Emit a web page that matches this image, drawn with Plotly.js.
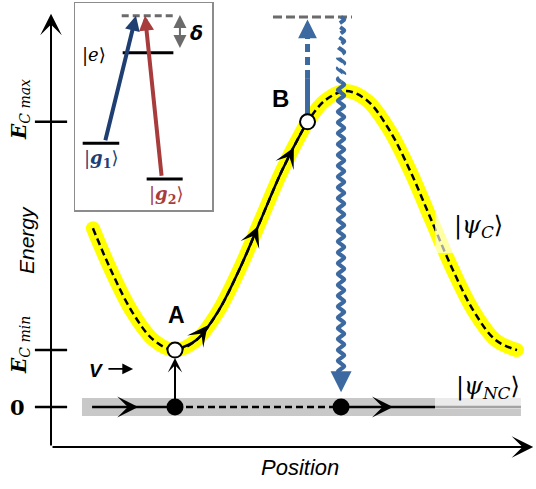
<!DOCTYPE html>
<html><head><meta charset="utf-8">
<script src="https://cdn.plot.ly/plotly-3.0.1.min.js"></script>
<style>html,body{margin:0;padding:0;background:#fff}</style>
</head><body><div id="chart" style="width:536px;height:489px"></div>
<script>
// ---- main diagram data (position units, energy units) ----
const curveX = [5.2, 6.25, 7.5, 8.75, 10, 11.25, 12.5, 13.75, 15, 16.25, 17.5, 17.75, 18.75, 20, 21.25, 22.5, 23.75, 25, 26.25, 27.5, 28.75, 30];
const curveE = [6.25, 4.79, 3.32, 2.34, 1.99, 2.34, 3.32, 4.79, 6.52, 8.26, 9.72, 9.97, 10.71, 11.05, 10.71, 9.72, 8.26, 6.52, 4.79, 3.32, 2.34, 1.99];
const idxA = 4, idxB = 11;
const pointLabels = ['A', 'B'];
const pointX = [curveX[idxA], curveX[idxB]];
const pointE = [curveE[idxA], curveE[idxB]];
const tickE = [0, curveE[idxA], curveE[idxB]];
const tickText = ['<b>0</b>', '<b><i>E</i></b><sub><i>C min</i></sub>', '<b><i>E</i></b><sub><i>C max</i></sub>'];
const bandX = [4.56, 30.23];
const pathSolid1X = [5.15, 10];
const pathDashX = [10, 19.71];
const pathSolid2X = [19.71, 30.23];
const dotX = [10, 19.71];
const bandArrowX = [7.85, 22.75];
const curveArrowX = [11.9, 14.85, 16.95];
const pumpE = [9.97, 11.5, 13.0, 13.55];
const levelTopX = [15.73, 20.35];
const levelTopE = 13.64;
const waveX = 19.71;
const waveE = [13.64, 11.33, 1.05, 0.52];
const axisOriginX = 2.749, axisOriginE = -1.399, axisTipX = 30.95, axisTipE = 13.75;
const vArrowX = [6.02, 7.55], vArrowE = 1.33;
// ---- inset (level diagram) data ----
const insetLevelNames = ['virtual', 'e', 'g1', 'g2'];
const insetLevelE = [9.39, 7.60, 3.22, 1.50];
const insetLevelX0 = [3.41, 3.48, 0.56, 5.23];
const insetLevelX1 = [7.18, 7.18, 3.23, 7.86];
const blueArrowX = [2.19, 4.45];
const redArrowX = [6.33, 5.11];
const deltaX = 7.66;

const BLUE = '#3b69a0', NAVY = '#1f3f73', RED = '#a83c3c';
const W = 536, H = 489;
const px = v => v / W, py = v => 1 - v / H;

function interpE(x) {
  for (let i = 0; i < curveX.length - 1; i++) {
    if (x >= curveX[i] && x <= curveX[i + 1]) {
      const t = (x - curveX[i]) / (curveX[i + 1] - curveX[i]);
      return curveE[i] + t * (curveE[i + 1] - curveE[i]);
    }
  }
  return curveE[curveE.length - 1];
}
// decorative squiggle (line style) between two energies at a fixed position
function squiggle(x, e0, e1, amp, quarter) {
  const n = Math.round(Math.abs(e1 - e0) / quarter);
  const xs = [], es = [];
  for (let i = 0; i <= n; i++) {
    const ph = i % 4;
    xs.push(x + (ph === 1 ? amp : ph === 3 ? -amp : 0));
    es.push(e0 + (e1 - e0) * i / n);
  }
  return {xs, es};
}
const sq = squiggle(waveX, waveE[0], waveE[2], 0.19, 0.095);
const wDashX = [], wDashE = [], wSolX = [], wSolE = [];
sq.es.forEach((e, i) => {
  if (e >= waveE[1]) { wDashX.push(sq.xs[i]); wDashE.push(e); }
  if (e <= waveE[1] + 0.1) { wSolX.push(sq.xs[i]); wSolE.push(e); }
});

const sk = {hoverinfo: 'skip', showlegend: false};
const traces = [
  Object.assign({x: bandX, y: [0, 0], mode: 'lines', line: {color: '#c8c8c8', width: 18}}, sk),
  Object.assign({x: curveX, y: curveE, mode: 'lines', line: {color: '#ffff00', width: 14, shape: 'spline', smoothing: 1}}, sk),
  Object.assign({x: [curveX[0], curveX[curveX.length - 1]], y: [curveE[0], curveE[curveE.length - 1]], mode: 'markers', marker: {color: '#ffff00', size: 14}}, sk),
  Object.assign({x: curveX, y: curveE, mode: 'lines', line: {color: '#000', width: 2.5, dash: '7px,4px', shape: 'spline', smoothing: 1}}, sk),
  Object.assign({x: curveX.slice(idxA, idxB + 1), y: curveE.slice(idxA, idxB + 1), mode: 'lines', line: {color: '#000', width: 2.5, shape: 'spline', smoothing: 1}}, sk),
  Object.assign({x: pathSolid1X, y: [0, 0], mode: 'lines', line: {color: '#000', width: 2.5}}, sk),
  Object.assign({x: pathDashX, y: [0, 0], mode: 'lines', line: {color: '#000', width: 2.5, dash: '7px,4px'}}, sk),
  Object.assign({x: pathSolid2X, y: [0, 0], mode: 'lines', line: {color: '#000', width: 2.5}}, sk),
  Object.assign({x: levelTopX, y: [levelTopE, levelTopE], mode: 'lines', line: {color: '#6b6b6b', width: 3, dash: '9px,4px'}}, sk),
  Object.assign({x: [pointX[1], pointX[1]], y: [pumpE[0], pumpE[1]], mode: 'lines', line: {color: BLUE, width: 5}}, sk),
  Object.assign({x: [pointX[1], pointX[1]], y: [pumpE[1], pumpE[2]], mode: 'lines', line: {color: BLUE, width: 5, dash: '8px,5px'}}, sk),
  Object.assign({x: wDashX, y: wDashE, mode: 'lines', line: {color: BLUE, width: 4, dash: '10px,6px', shape: 'spline'}}, sk),
  Object.assign({x: wSolX, y: wSolE, mode: 'lines', line: {color: BLUE, width: 4, shape: 'spline'}}, sk),
  Object.assign({x: tickE.map(() => axisOriginX), y: tickE, mode: 'markers', marker: {symbol: 'line-ew', size: 23, line: {color: '#000', width: 2.5}}}, sk),
  Object.assign({x: dotX, y: [0, 0], mode: 'markers', marker: {color: '#000', size: 17}}, sk),
  Object.assign({x: pointX, y: pointE, mode: 'markers', marker: {color: '#fff', size: 15, line: {color: '#000', width: 2}}}, sk),
  // inset levels
  Object.assign({x: [insetLevelX0[0], insetLevelX1[0]], y: [insetLevelE[0], insetLevelE[0]], xaxis: 'x2', yaxis: 'y2', mode: 'lines', line: {color: '#6b6b6b', width: 3, dash: '7px,4px'}}, sk),
  Object.assign({x: [insetLevelX0[1], insetLevelX1[1], null, insetLevelX0[2], insetLevelX1[2], null, insetLevelX0[3], insetLevelX1[3]],
    y: [insetLevelE[1], insetLevelE[1], null, insetLevelE[2], insetLevelE[2], null, insetLevelE[3], insetLevelE[3]],
    xaxis: 'x2', yaxis: 'y2', mode: 'lines', line: {color: '#000', width: 3}}, sk)
];

const ann = [];
function arrow(o) {
  ann.push(Object.assign({text: '', showarrow: true, xref: 'x', yref: 'y', axref: 'x', ayref: 'y', arrowcolor: '#000', standoff: 0}, o));
}
// axes
arrow({x: axisOriginX, y: axisTipE, ax: axisOriginX, ay: axisOriginE, arrowhead: 3, arrowwidth: 2, arrowsize: 1.8});
arrow({x: axisTipX, y: axisOriginE, ax: axisOriginX, ay: axisOriginE, arrowhead: 3, arrowwidth: 2, arrowsize: 1.8});
// band arrows
bandArrowX.forEach(x => arrow({x: x, y: 0, ax: x - 0.6, ay: 0, arrowhead: 3, arrowwidth: 2.5, arrowsize: 1.4}));
// curve arrows
curveArrowX.forEach(x => arrow({x: x, y: interpE(x), ax: x - 0.3, ay: interpE(x - 0.3), arrowhead: 3, arrowwidth: 2.5, arrowsize: 1.35}));
// vertical transition dot -> A
arrow({x: pointX[0], y: pointE[0] - 0.28, ax: pointX[0], ay: 0, arrowhead: 3, arrowwidth: 2, arrowsize: 1.2});
// pump arrow head
arrow({x: pointX[1], y: pumpE[3], ax: pointX[1], ay: pumpE[2], arrowhead: 2, arrowwidth: 5, arrowsize: 0.75, arrowcolor: BLUE});
// wave arrow head
arrow({x: waveX, y: waveE[3], ax: waveX, ay: waveE[2], arrowhead: 2, arrowwidth: 4, arrowsize: 1.05, arrowcolor: BLUE});
// v arrow
arrow({x: vArrowX[1], y: vArrowE, ax: vArrowX[0], ay: vArrowE, arrowhead: 2, arrowwidth: 1.8, arrowsize: 1.2});
// inset arrows
function iarrow(o) { arrow(Object.assign({xref: 'x2', yref: 'y2', axref: 'x2', ayref: 'y2'}, o)); }
iarrow({x: blueArrowX[1], y: insetLevelE[0], ax: blueArrowX[0], ay: 3.30, arrowhead: 2, arrowwidth: 4, arrowsize: 0.75, arrowcolor: NAVY});
iarrow({x: redArrowX[1], y: insetLevelE[0], ax: redArrowX[0], ay: 1.58, arrowhead: 2, arrowwidth: 4, arrowsize: 0.75, arrowcolor: RED});
iarrow({x: deltaX, y: insetLevelE[0] + 0.03, ax: deltaX, ay: insetLevelE[1] + 0.15, arrowhead: 2, startarrowhead: 2, arrowside: 'end+start', arrowwidth: 2, arrowsize: 1.3, startarrowsize: 1.3, arrowcolor: '#6b6b6b'});

function label(text, x, y, font, extra) {
  ann.push(Object.assign({text: text, x: px(x), y: py(y), xref: 'paper', yref: 'paper', showarrow: false, xanchor: 'center', yanchor: 'middle', font: font}, extra || {}));
}
const serif = 'DejaVu Serif', sans = 'Liberation Sans, Arial';
label(tickText[0], 17, 407, {family: serif, size: 21, color: '#000'});
label(tickText[1], 20, 345, {family: serif, size: 20, color: '#000'}, {textangle: -90});
label(tickText[2], 20, 110, {family: serif, size: 20, color: '#000'}, {textangle: -90});
label('<i>Energy</i>', 26, 240, {family: sans, size: 21, color: '#000'}, {textangle: -90});
label('<i>Position</i>', 300, 467, {family: sans, size: 22, color: '#000'});
label('<b>' + pointLabels[0] + '</b>', 176, 315, {family: sans, size: 23, color: '#000'});
label('<b>' + pointLabels[1] + '</b>', 280, 98, {family: sans, size: 24, color: '#000'});
label('<b><i>V</i></b>', 96, 370, {family: sans, size: 19, color: '#000'});
label('|<i>ψ</i><sub><i>C</i></sub>⟩', 478, 226, {family: serif, size: 24, color: '#000'});
label('|<i>ψ</i><sub><i>NC</i></sub>⟩', 488, 387, {family: serif, size: 24, color: '#000'});
label('|<i>e</i>⟩', 94, 55, {family: serif, size: 18, color: '#000'});
label('|<b><i>g</i></b><sub><b>1</b></sub>⟩', 101, 159, {family: serif, size: 18, color: NAVY});
label('|<b><i>g</i></b><sub><b>2</b></sub>⟩', 166, 195, {family: serif, size: 18, color: RED});
label('<b><i>δ</i></b>', 196, 33, {family: 'DejaVu Sans', size: 19, color: '#000'});

const shapes = [
  {type: 'rect', xref: 'paper', yref: 'paper', x0: px(435), x1: px(515), y0: py(253), y1: py(195), fillcolor: 'rgba(255,255,255,0.64)', line: {width: 0}, layer: 'above'},
  {type: 'rect', xref: 'paper', yref: 'paper', x0: px(435), x1: px(532), y0: py(409), y1: py(362), fillcolor: 'rgba(255,255,255,0.64)', line: {width: 0}, layer: 'above'}
];

const layout = {
  width: W, height: H, margin: {l: 0, r: 0, t: 0, b: 0, pad: 0}, showlegend: false,
  paper_bgcolor: '#fff', plot_bgcolor: 'rgba(0,0,0,0)',
  xaxis: {range: [-0.234, 31.111], visible: false, fixedrange: true},
  yaxis: {range: [-2.867, 14.231], visible: false, fixedrange: true},
  xaxis2: {domain: [75 / W, 212 / W], range: [0, 10], anchor: 'y2', showline: true, mirror: true, linecolor: '#8c8c8c', linewidth: 1.5,
    showticklabels: false, ticks: '', showgrid: false, zeroline: false, fixedrange: true},
  yaxis2: {domain: [1 - 210 / H, 1 - 3 / H], range: [0, 10], anchor: 'x2', showline: true, mirror: true, linecolor: '#8c8c8c', linewidth: 1.5,
    showticklabels: false, ticks: '', showgrid: false, zeroline: false, fixedrange: true},
  annotations: ann, shapes: shapes
};
Plotly.newPlot('chart', traces, layout, {staticPlot: true, displayModeBar: false});
</script></body></html>
